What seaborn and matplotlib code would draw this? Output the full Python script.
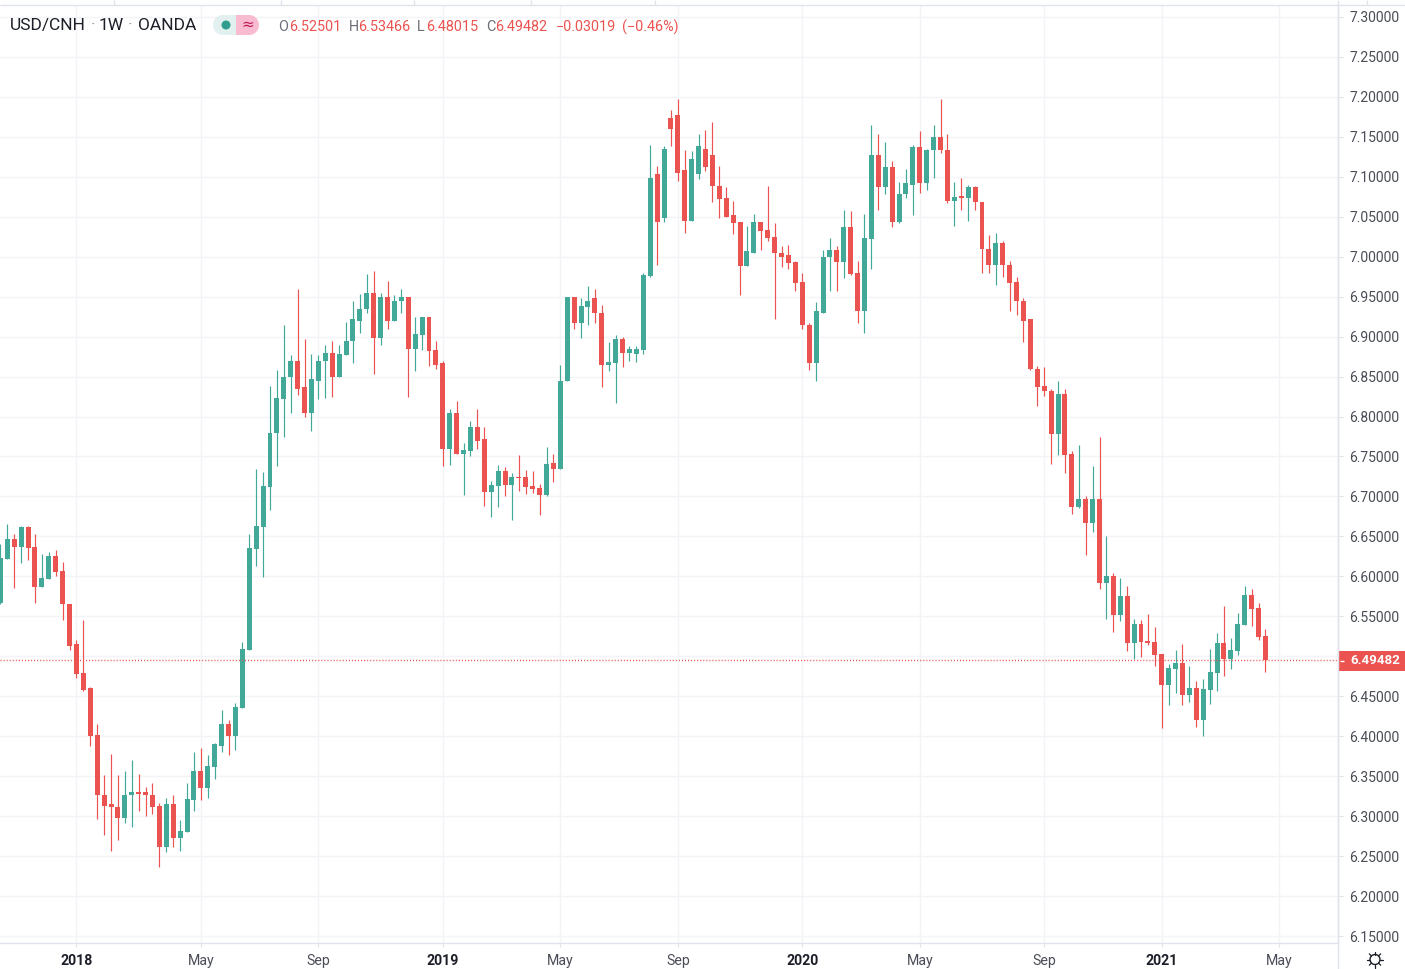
import numpy as np
import pandas as pd
import matplotlib
matplotlib.use("Agg")
import matplotlib.pyplot as plt
from matplotlib.patches import Circle, FancyBboxPatch, Rectangle
import seaborn as sns

# =========================
# Weekly USD/CNH candles
# =========================
start_week = "2017-10-16"

opens = [
    6.567, 6.622, 6.647, 6.637, 6.662, 6.637, 6.587, 6.597, 6.625, 6.607,
    6.566, 6.515, 6.479, 6.460, 6.401, 6.327, 6.315, 6.312, 6.298, 6.326,
    6.330, 6.330, 6.327, 6.313, 6.262, 6.315, 6.273, 6.280, 6.320, 6.356,
    6.335, 6.362, 6.388, 6.415, 6.400, 6.435, 6.508, 6.634, 6.662, 6.712,
    6.779, 6.822, 6.849, 6.870, 6.837, 6.805, 6.845, 6.869, 6.880, 6.849,
    6.877, 6.894, 6.920, 6.934, 6.954, 6.898, 6.949, 6.920, 6.944, 6.950,
    6.885, 6.902, 6.925, 6.883, 6.867, 6.760, 6.804, 6.753, 6.757, 6.787,
    6.772, 6.705, 6.713, 6.732, 6.714, 6.724, 6.724, 6.713, 6.710, 6.702,
    6.742, 6.734, 6.844, 6.949, 6.917, 6.937, 6.948, 6.930, 6.864, 6.867,
    6.897, 6.879, 6.878, 6.883, 6.976, 7.103, 7.049, 7.174, 7.177, 7.109,
    7.045, 7.103, 7.135, 7.127, 7.089, 7.073, 7.052, 7.043, 6.988, 7.005,
    7.044, 7.033, 7.025, 7.005, 7.002, 6.993, 6.968, 6.915, 6.867, 6.930,
    6.999, 7.008, 6.993, 7.037, 6.979, 6.932, 7.022, 7.127, 7.087, 7.112,
    7.043, 7.078, 7.090, 7.137, 7.092, 7.133, 7.150, 7.134, 7.070, 7.075,
    7.074, 7.087, 7.069, 7.010, 6.990, 7.017, 6.990, 6.968, 6.945, 6.922,
    6.860, 6.838, 6.832, 6.778, 6.828, 6.753, 6.687, 6.697, 6.667, 6.697,
    6.592, 6.600, 6.552, 6.575, 6.517, 6.540, 6.519, 6.518, 6.503, 6.464,
    6.484, 6.492, 6.452, 6.460, 6.420, 6.458, 6.479, 6.517, 6.497, 6.507,
    6.539, 6.577, 6.560, 6.52501,
]
highs = [
    6.641, 6.666, 6.653, 6.663, 6.663, 6.653, 6.628, 6.630, 6.633, 6.618,
    6.566, 6.520, 6.546, 6.461, 6.415, 6.352, 6.378, 6.352, 6.356, 6.370,
    6.353, 6.336, 6.342, 6.316, 6.323, 6.327, 6.295, 6.342, 6.380, 6.385,
    6.376, 6.391, 6.433, 6.420, 6.441, 6.518, 6.653, 6.734, 6.730, 6.838,
    6.858, 6.914, 6.877, 6.959, 6.897, 6.878, 6.877, 6.890, 6.894, 6.889,
    6.918, 6.944, 6.953, 6.978, 6.982, 6.954, 6.970, 6.952, 6.959, 6.950,
    6.924, 6.925, 6.925, 6.895, 6.869, 6.810, 6.820, 6.767, 6.795, 6.810,
    6.787, 6.719, 6.739, 6.737, 6.729, 6.752, 6.733, 6.732, 6.715, 6.762,
    6.753, 6.865, 6.950, 6.950, 6.948, 6.963, 6.960, 6.940, 6.893, 6.902,
    6.900, 6.888, 6.888, 6.980, 7.140, 7.113, 7.139, 7.184, 7.197, 7.133,
    7.132, 7.153, 7.159, 7.169, 7.113, 7.087, 7.070, 7.043, 7.038, 7.054,
    7.044, 7.088, 7.042, 7.013, 7.014, 6.995, 6.979, 6.917, 6.943, 7.008,
    7.024, 7.013, 7.058, 7.057, 6.994, 7.053, 7.165, 7.153, 7.143, 7.120,
    7.093, 7.110, 7.140, 7.157, 7.135, 7.165, 7.197, 7.153, 7.093, 7.098,
    7.090, 7.088, 7.069, 7.027, 7.030, 7.020, 6.994, 6.975, 6.948, 6.922,
    6.863, 6.862, 6.835, 6.845, 6.834, 6.757, 6.765, 6.700, 6.738, 6.774,
    6.650, 6.604, 6.598, 6.588, 6.547, 6.545, 6.553, 6.537, 6.503, 6.490,
    6.508, 6.515, 6.488, 6.469, 6.472, 6.509, 6.529, 6.563, 6.523, 6.554,
    6.588, 6.584, 6.567, 6.53466,
]
lows = [
    6.565, 6.622, 6.586, 6.617, 6.620, 6.567, 6.587, 6.597, 6.601, 6.546,
    6.508, 6.473, 6.456, 6.388, 6.296, 6.277, 6.256, 6.270, 6.291, 6.287,
    6.306, 6.300, 6.303, 6.236, 6.255, 6.261, 6.256, 6.280, 6.306, 6.320,
    6.323, 6.347, 6.380, 6.376, 6.383, 6.435, 6.508, 6.613, 6.599, 6.683,
    6.738, 6.774, 6.805, 6.827, 6.799, 6.782, 6.822, 6.823, 6.824, 6.849,
    6.877, 6.867, 6.905, 6.929, 6.853, 6.889, 6.910, 6.919, 6.930, 6.825,
    6.857, 6.883, 6.863, 6.859, 6.738, 6.739, 6.753, 6.702, 6.750, 6.759,
    6.688, 6.674, 6.687, 6.700, 6.670, 6.707, 6.703, 6.704, 6.677, 6.700,
    6.718, 6.734, 6.844, 6.909, 6.898, 6.915, 6.917, 6.837, 6.857, 6.817,
    6.862, 6.870, 6.868, 6.878, 6.974, 6.989, 7.044, 7.139, 7.095, 7.030,
    7.045, 7.097, 7.107, 7.069, 7.049, 7.050, 7.029, 6.952, 6.988, 7.005,
    7.008, 7.019, 6.922, 6.987, 6.985, 6.957, 6.910, 6.858, 6.845, 6.930,
    6.957, 6.957, 6.973, 6.977, 6.917, 6.904, 6.984, 7.058, 7.078, 7.037,
    7.042, 7.074, 7.052, 7.080, 7.083, 7.098, 7.130, 7.067, 7.039, 7.059,
    7.045, 7.058, 6.980, 6.980, 6.964, 6.974, 6.932, 6.927, 6.893, 6.858,
    6.813, 6.826, 6.740, 6.752, 6.729, 6.678, 6.685, 6.627, 6.655, 6.584,
    6.547, 6.530, 6.544, 6.507, 6.497, 6.499, 6.514, 6.488, 6.410, 6.439,
    6.454, 6.439, 6.443, 6.412, 6.400, 6.440, 6.457, 6.475, 6.484, 6.502,
    6.539, 6.538, 6.520, 6.48015,
]
closes = [
    6.623, 6.647, 6.637, 6.662, 6.636, 6.587, 6.598, 6.625, 6.606, 6.565,
    6.513, 6.478, 6.458, 6.400, 6.326, 6.313, 6.311, 6.298, 6.327, 6.330,
    6.328, 6.326, 6.312, 6.262, 6.315, 6.273, 6.281, 6.321, 6.356, 6.335,
    6.363, 6.390, 6.415, 6.400, 6.437, 6.509, 6.635, 6.663, 6.713, 6.780,
    6.823, 6.850, 6.870, 6.835, 6.805, 6.847, 6.870, 6.880, 6.849, 6.878,
    6.895, 6.922, 6.935, 6.954, 6.898, 6.949, 6.920, 6.945, 6.950, 6.885,
    6.903, 6.925, 6.882, 6.865, 6.760, 6.804, 6.753, 6.758, 6.787, 6.770,
    6.705, 6.714, 6.732, 6.714, 6.724, 6.723, 6.712, 6.709, 6.702, 6.740,
    6.734, 6.845, 6.949, 6.917, 6.938, 6.945, 6.929, 6.864, 6.868, 6.897,
    6.879, 6.884, 6.884, 6.977, 7.099, 7.043, 7.135, 7.160, 7.105, 7.045,
    7.122, 7.139, 7.112, 7.088, 7.072, 7.050, 7.042, 6.988, 7.007, 7.044,
    7.032, 7.024, 7.004, 7.000, 6.992, 6.967, 6.914, 6.867, 6.932, 7.000,
    7.008, 6.993, 7.037, 6.978, 6.932, 7.023, 7.127, 7.087, 7.112, 7.043,
    7.079, 7.092, 7.137, 7.092, 7.134, 7.150, 7.133, 7.070, 7.075, 7.074,
    7.087, 7.068, 7.009, 6.990, 7.017, 6.989, 6.967, 6.944, 6.920, 6.859,
    6.837, 6.832, 6.778, 6.828, 6.752, 6.687, 6.697, 6.667, 6.697, 6.592,
    6.600, 6.552, 6.575, 6.517, 6.540, 6.518, 6.517, 6.502, 6.464, 6.485,
    6.492, 6.452, 6.460, 6.420, 6.459, 6.480, 6.517, 6.497, 6.508, 6.540,
    6.577, 6.559, 6.524, 6.49482,
]

last_price = 6.49482
price_ticks = [6.15 + 0.05 * i for i in range(24)]
time_tick_dates = ["2018-01-01", "2018-05-07", "2018-09-03", "2019-01-07", "2019-05-06",
                   "2019-09-02", "2020-01-06", "2020-05-04", "2020-09-07", "2021-01-04",
                   "2021-05-03"]
time_tick_labels = ["2018", "May", "Sep", "2019", "May", "Sep", "2020", "May", "Sep", "2021", "May"]

GREEN = "#42a898"
RED = "#ea5350"
GRID = "#f3f4f8"
AXIS = "#e0e3eb"
TEXT = "#4a4d57"
DARK = "#1c1f28"

# =========================
# Table for the plots
# =========================
df = pd.DataFrame({"open": opens, "high": highs, "low": lows, "close": closes})
df["week"] = np.arange(len(df))
df["date"] = pd.date_range(start_week, periods=len(df), freq="7D")
df["up"] = df["close"] >= df["open"]
df["body_low"] = df[["open", "close"]].min(axis=1)
# very small candles still get a visible body
df["body"] = (df["open"] - df["close"]).abs().clip(lower=0.0015)

tick_pos = [(pd.Timestamp(d) - df["date"][0]).days / 7 for d in time_tick_dates]

sns.set_theme(style="white")
plt.rcParams["font.family"] = ["Roboto", "DejaVu Sans"]

fig = plt.figure(figsize=(14.05, 9.69), dpi=100)
ax = fig.add_axes([0, 26 / 969, 1338 / 1405, 938 / 969])

# =========================
# Candles
# =========================
for is_up, color in [(True, GREEN), (False, RED)]:
    part = df[df["up"] == is_up]
    ax.vlines(part["week"], part["low"], part["high"], color=color, lw=0.85, zorder=3)
    sns.barplot(data=part, x="week", y="body", bottom=part["body_low"].values, native_scale=True,
                width=0.72, color=color, saturation=1, errorbar=None, linewidth=0, ax=ax, zorder=4)

ax.axhline(last_price, color=RED, lw=1.0, ls=(0, (0.75, 1.45)), zorder=5)

# =========================
# Axes
# =========================
ax.set_xlim(-0.06, 193.5)
ax.set_ylim(6.1413, 7.3149)
ax.set_xlabel("")
ax.set_ylabel("")
ax.grid(True, color=GRID, lw=1)
ax.set_axisbelow(True)
ax.yaxis.tick_right()
ax.set_yticks(price_ticks)
# 6.50000 sits behind the last price tag, so it has no label of its own
ax.set_yticklabels(["" if abs(p - 6.5) < 0.001 else f"{p:.5f}" for p in price_ticks])
ax.set_xticks(tick_pos)
ax.set_xticklabels(time_tick_labels)
ax.tick_params(axis="y", length=3.6, width=0.8, color=AXIS, labelcolor=TEXT, labelsize=10.0, pad=4.6,
               right=True, left=False)
ax.tick_params(axis="x", length=3, width=0.8, color=AXIS, labelcolor=TEXT, labelsize=10.2, pad=5, bottom=True)
for lab, txt in zip(ax.get_xticklabels(), time_tick_labels):
    if txt.isdigit():
        lab.set_fontweight("bold")
        lab.set_color(DARK)
for side in ["left", "top"]:
    ax.spines[side].set_visible(False)
for side in ["right", "bottom"]:
    ax.spines[side].set_color(AXIS)
    ax.spines[side].set_linewidth(1)

# =========================
# Header, price tag and icon (pixel coords)
# =========================
top = fig.add_axes([0, 0, 1, 1], facecolor="none")
top.set_xlim(0, 1405)
top.set_ylim(969, 0)
top.axis("off")

top.hlines(5, 0, 1405, color=AXIS, lw=1)
top.vlines([114, 281, 414, 531, 655, 1367], 0, 5, color=AXIS, lw=1)
top.vlines(1338, 0, 969, color=AXIS, lw=1)

top.text(10, 25.5, "USD/CNH", fontsize=12.5, color=DARK, va="center")
top.text(90.5, 25.5, "·", fontsize=12.5, color="#9598a1", va="center")
top.text(99, 25.5, "1W", fontsize=12.5, color=DARK, va="center")
top.text(128, 25.5, "·", fontsize=12.5, color="#9598a1", va="center")
top.text(138, 25.5, "OANDA", fontsize=12.5, color=DARK, va="center")

top.add_patch(FancyBboxPatch((223, 15), 26, 20, boxstyle="round,pad=0,rounding_size=0", fc="#e2f1ef", ec="none"))
top.add_patch(Circle((223, 25), 10, fc="#e2f1ef", ec="none"))
top.add_patch(Rectangle((236, 15), 13, 20, fc="#f8bbd0", ec="none"))
top.add_patch(Circle((249, 25), 10, fc="#f8bbd0", ec="none"))
top.add_patch(Circle((226, 25), 4.5, fc="#2f9e8f", ec="none"))
top.text(247.5, 24.5, "≈", fontsize=11, color="#c2185b", ha="center", va="center", family=["DejaVu Sans"])

legend_parts = [(278, "O", "#6a6d78"), (289, "6.52501", RED), (349, "H", "#6a6d78"), (358, "6.53466", RED),
                (417, "L", "#6a6d78"), (426, "6.48015", RED), (486, "C", "#6a6d78"), (495, "6.49482", RED),
                (556, "−0.03019", RED), (622, "(−0.46%)", RED)]
for x, label, color in legend_parts:
    top.text(x, 27, label, fontsize=10.4, color=color, va="center")

top.add_patch(Rectangle((1338, 651), 67, 20, fc=RED, ec="none"))
top.hlines(660.5, 1340, 1344, color="white", lw=1)
top.text(1350, 661, f"{last_price:.5f}", fontsize=9.6, color="white", fontweight="bold", va="center")

top.add_patch(Circle((1375, 959.5), 5, fc="none", ec=DARK, lw=1))
for a in np.arange(8) * np.pi / 4:
    top.plot([1375 + 5 * np.cos(a), 1375 + 8 * np.cos(a)], [959.5 + 5 * np.sin(a), 959.5 + 8 * np.sin(a)],
             color=DARK, lw=0.9)

fig.savefig("out.png", dpi=100, facecolor="white")
